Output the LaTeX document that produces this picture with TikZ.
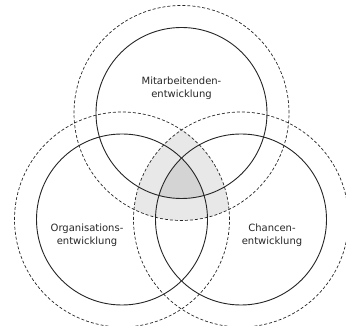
\documentclass[tikz,border=0pt]{standalone}
\usepackage{fontspec}
\setmainfont{DejaVu Sans}
\usepackage{tikz}
\usepackage{xcolor}
\definecolor{lightshade}{gray}{0.91}
\definecolor{darkshade}{gray}{0.83}
\definecolor{linegray}{gray}{0.15}

\begin{document}
\begin{tikzpicture}[x=1pt, y=1pt,
    solidring/.style={draw=linegray, line width=0.9pt},
    dashring/.style={draw=linegray, line width=0.7pt, dash pattern=on 3pt off 2pt},
    circlelabel/.style={align=center, text=linegray, font=\fontsize{10}{13}\selectfont}]
            \useasboundingbox (0,0) rectangle (346,326);
            \coordinate (top) at (181.5,213);
            \coordinate (left) at (122,106.5);
            \coordinate (right) at (241,106.5);
            % shaded overlaps
            \begin{scope}
                \clip (top) circle (107.5);
                \clip (left) circle (107.5);
                \fill[lightshade] (right) circle (107.5);
            \end{scope}
            \begin{scope}
                \clip (top) circle (85.5);
                \clip (left) circle (85.5);
                \fill[darkshade] (right) circle (85.5);
            \end{scope}
            % outer rings
            \draw[dashring] (top) circle (107.5);
            \draw[dashring] (left) circle (107.5);
            \draw[dashring] (right) circle (107.5);
            % inner rings
            \draw[solidring] (top) circle (85.5);
            \draw[solidring] (left) circle (85.5);
            \draw[solidring] (right) circle (85.5);
            \node[circlelabel] (mitarbeit) at (181.5,238) {Mitarbeitenden-\\entwicklung};
            \node[circlelabel] (organisation) at (87,91) {Organisations-\\entwicklung};
            \node[circlelabel] (chancen) at (272,91) {Chancen-\\entwicklung};
        \end{tikzpicture}
\end{document}
